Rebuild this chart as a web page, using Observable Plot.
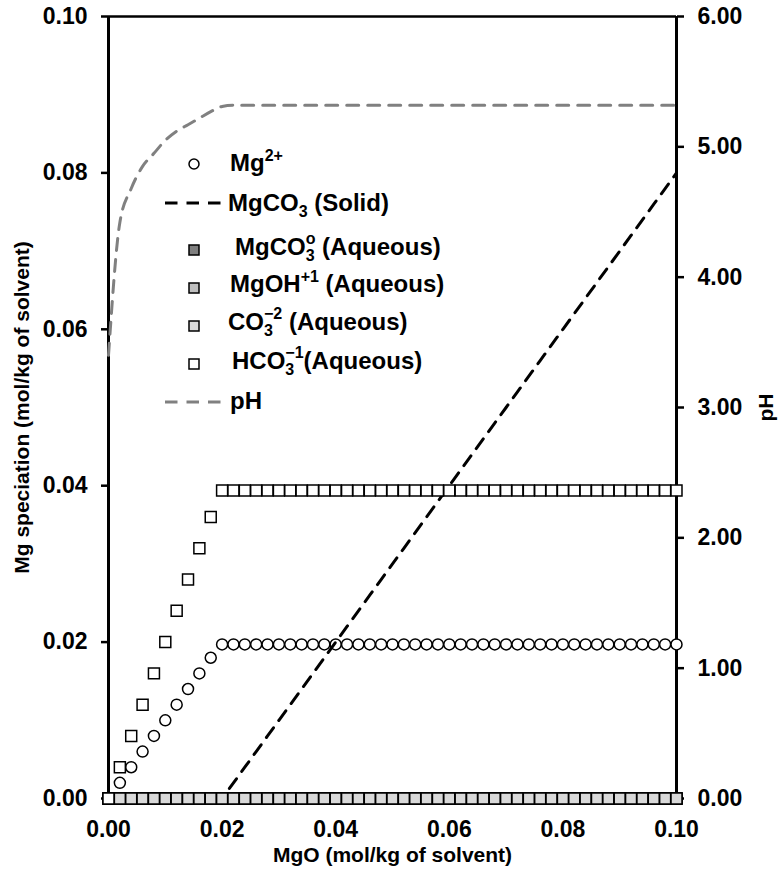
<!DOCTYPE html>
<html>
<head>
<meta charset="utf-8">
<script src="https://cdn.jsdelivr.net/npm/d3@7"></script>
<script src="https://cdn.jsdelivr.net/npm/@observablehq/plot@0.6"></script>
<style>
  body { margin: 0; background: #fff; }
  #chart { width: 781px; height: 881px; }
</style>
</head>
<body>
<div id="chart"></div>
<script>
// MgO added (mol/kg of solvent)
const mgo = [
  0.000, 0.002, 0.004, 0.006, 0.008, 0.010, 0.012, 0.014, 0.016, 0.018,
  0.020, 0.022, 0.024, 0.026, 0.028, 0.030, 0.032, 0.034, 0.036, 0.038,
  0.040, 0.042, 0.044, 0.046, 0.048, 0.050, 0.052, 0.054, 0.056, 0.058,
  0.060, 0.062, 0.064, 0.066, 0.068, 0.070, 0.072, 0.074, 0.076, 0.078,
  0.080, 0.082, 0.084, 0.086, 0.088, 0.090, 0.092, 0.094, 0.096, 0.098,
  0.100
];

// Mg2+ in solution
const mg2 = [
  0.000, 0.002, 0.004, 0.006, 0.008, 0.010, 0.012, 0.014, 0.016, 0.018,
  0.0197, 0.0197, 0.0197, 0.0197, 0.0197, 0.0197, 0.0197, 0.0197, 0.0197, 0.0197,
  0.0197, 0.0197, 0.0197, 0.0197, 0.0197, 0.0197, 0.0197, 0.0197, 0.0197, 0.0197,
  0.0197, 0.0197, 0.0197, 0.0197, 0.0197, 0.0197, 0.0197, 0.0197, 0.0197, 0.0197,
  0.0197, 0.0197, 0.0197, 0.0197, 0.0197, 0.0197, 0.0197, 0.0197, 0.0197, 0.0197,
  0.0197
];

// MgCO3 precipitated as solid
const mgco3Solid = [
  0.000, 0.000, 0.000, 0.000, 0.000, 0.000, 0.000, 0.000, 0.000, 0.000,
  0.000, 0.002, 0.004, 0.006, 0.008, 0.010, 0.012, 0.014, 0.016, 0.018,
  0.020, 0.022, 0.024, 0.026, 0.028, 0.030, 0.032, 0.034, 0.036, 0.038,
  0.040, 0.042, 0.044, 0.046, 0.048, 0.050, 0.052, 0.054, 0.056, 0.058,
  0.060, 0.062, 0.064, 0.066, 0.068, 0.070, 0.072, 0.074, 0.076, 0.078,
  0.080
];

// Aqueous MgCO3°
const mgco3Aq = [
  0, 0, 0, 0, 0, 0, 0, 0, 0, 0,
  0, 0, 0, 0, 0, 0, 0, 0, 0, 0,
  0, 0, 0, 0, 0, 0, 0, 0, 0, 0,
  0, 0, 0, 0, 0, 0, 0, 0, 0, 0,
  0, 0, 0, 0, 0, 0, 0, 0, 0, 0,
  0
];

// Aqueous MgOH+
const mgoh = [
  0, 0, 0, 0, 0, 0, 0, 0, 0, 0,
  0, 0, 0, 0, 0, 0, 0, 0, 0, 0,
  0, 0, 0, 0, 0, 0, 0, 0, 0, 0,
  0, 0, 0, 0, 0, 0, 0, 0, 0, 0,
  0, 0, 0, 0, 0, 0, 0, 0, 0, 0,
  0
];

// Aqueous CO3 2-
const co3 = [
  0, 0, 0, 0, 0, 0, 0, 0, 0, 0,
  0, 0, 0, 0, 0, 0, 0, 0, 0, 0,
  0, 0, 0, 0, 0, 0, 0, 0, 0, 0,
  0, 0, 0, 0, 0, 0, 0, 0, 0, 0,
  0, 0, 0, 0, 0, 0, 0, 0, 0, 0,
  0
];

// Aqueous HCO3-
const hco3 = [
  0.000, 0.004, 0.008, 0.012, 0.016, 0.020, 0.024, 0.028, 0.032, 0.036,
  0.0394, 0.0394, 0.0394, 0.0394, 0.0394, 0.0394, 0.0394, 0.0394, 0.0394, 0.0394,
  0.0394, 0.0394, 0.0394, 0.0394, 0.0394, 0.0394, 0.0394, 0.0394, 0.0394, 0.0394,
  0.0394, 0.0394, 0.0394, 0.0394, 0.0394, 0.0394, 0.0394, 0.0394, 0.0394, 0.0394,
  0.0394, 0.0394, 0.0394, 0.0394, 0.0394, 0.0394, 0.0394, 0.0394, 0.0394, 0.0394,
  0.0394
];

// Solution pH (secondary axis)
const pH = [
  3.40, 4.42, 4.68, 4.85, 4.95, 5.05, 5.12, 5.17, 5.22, 5.27,
  5.31, 5.32, 5.32, 5.32, 5.32, 5.32, 5.32, 5.32, 5.32, 5.32,
  5.32, 5.32, 5.32, 5.32, 5.32, 5.32, 5.32, 5.32, 5.32, 5.32,
  5.32, 5.32, 5.32, 5.32, 5.32, 5.32, 5.32, 5.32, 5.32, 5.32,
  5.32, 5.32, 5.32, 5.32, 5.32, 5.32, 5.32, 5.32, 5.32, 5.32,
  5.32
];

// Axis ticks
const xTicks = [0, 0.02, 0.04, 0.06, 0.08, 0.10];
const yTicks = [0, 0.02, 0.04, 0.06, 0.08, 0.10];
const pHTicks = [0, 1, 2, 3, 4, 5, 6];

// pH shares the left scale: 6 pH units span 0–0.10 mol/kg
const PH_MAX = 6, Y_MAX = 0.1;
const phToY = v => v * Y_MAX / PH_MAX;

const rows = mgo.map((x, i) => ({
  x, mg2: mg2[i], solid: mgco3Solid[i], mgco3Aq: mgco3Aq[i],
  mgoh: mgoh[i], co3: co3[i], hco3: hco3[i], pH: pH[i]
}));

const FONT = "'Liberation Sans', Arial, Helvetica, sans-serif";
const SQ = 6.2; // square symbol radius (≈11px side)
const TICK_FS = 23;

const chart = Plot.plot({
  width: 781,
  height: 881,
  marginLeft: 108,
  marginRight: 105,
  marginTop: 16,
  marginBottom: 83,
  style: { fontFamily: FONT, fontWeight: "bold", fontSize: "22px", color: "#000", background: "#fff", overflow: "visible" },
  x: { domain: [0, 0.1] },
  y: { domain: [0, Y_MAX] },
  marks: [
    // plot frame
    Plot.ruleY([Y_MAX], { stroke: "#000", strokeWidth: 2.5 }),
    Plot.ruleY([0], { stroke: "#000", strokeWidth: 2 }),
    Plot.ruleX([0], { stroke: "#000", strokeWidth: 3 }),
    Plot.ruleX([0.1], { stroke: "#000", strokeWidth: 3 }),

    // axes
    Plot.axisY(yTicks, {
      anchor: "left", tickSize: 7, tickPadding: 14, strokeWidth: 2.5,
      tickFormat: d => d.toFixed(2), fontSize: TICK_FS, fontWeight: "bold", label: null
    }),
    Plot.axisY(pHTicks.map(phToY), {
      anchor: "right", tickSize: 7, tickPadding: 14, strokeWidth: 2.5,
      tickFormat: d => (d * PH_MAX / Y_MAX).toFixed(2), fontSize: TICK_FS, fontWeight: "bold", label: null
    }),
    Plot.axisX(xTicks, {
      anchor: "bottom", tickSize: 7, tickPadding: 15, strokeWidth: 2.5,
      tickFormat: d => d.toFixed(2), fontSize: TICK_FS, fontWeight: "bold", label: null
    }),

    // axis titles
    Plot.text(["Mg speciation (mol/kg of solvent)"], {
      frameAnchor: "left", textAnchor: "middle", dx: -86, rotate: -90, fontSize: 21, fontWeight: "bold"
    }),
    Plot.text(["pH"], {
      frameAnchor: "right", textAnchor: "middle", dx: 90, rotate: -90, fontSize: 21, fontWeight: "bold"
    }),
    Plot.text(["MgO (mol/kg of solvent)"], {
      frameAnchor: "bottom", dy: 63, fontSize: 21, fontWeight: "bold"
    }),

    // series
    Plot.dot(rows, { x: "x", y: "mg2", r: 5.5, fill: "#fff", stroke: "#000", strokeWidth: 1.5 }),
    Plot.line(rows, { x: "x", y: "solid", stroke: "#000", strokeWidth: 3, strokeDasharray: "12,9" }),
    Plot.dot(rows, { x: "x", y: "mgco3Aq", symbol: "square", r: SQ, fill: "#7f7f7f", stroke: "#000", strokeWidth: 1.5 }),
    Plot.dot(rows, { x: "x", y: "mgoh", symbol: "square", r: SQ, fill: "#bfbfbf", stroke: "#000", strokeWidth: 1.5 }),
    Plot.dot(rows, { x: "x", y: "co3", symbol: "square", r: SQ, fill: "#d9d9d9", stroke: "#000", strokeWidth: 1.5 }),
    Plot.dot(rows, { x: "x", y: "hco3", symbol: "square", r: SQ, fill: "#fff", stroke: "#000", strokeWidth: 1.5 }),
    Plot.line(rows, { x: "x", y: d => phToY(d.pH), curve: "monotone-x", stroke: "#808080", strokeWidth: 3, strokeDasharray: "12,9" })
  ]
});

document.getElementById("chart").append(chart);

// Legend with chemical sub/superscripts
const svg = d3.select(chart);
const lg = svg.append("g")
  .attr("font-family", FONT)
  .attr("font-weight", "bold")
  .attr("font-size", 24)
  .attr("text-anchor", "start")
  .attr("fill", "#000");

const SUB = 16, SUP_DX = -8.9;

// symbols
lg.append("circle").attr("cx", 194).attr("cy", 164).attr("r", 5)
  .attr("fill", "#fff").attr("stroke", "#000").attr("stroke-width", 1.5);
lg.append("line").attr("x1", 165).attr("x2", 221).attr("y1", 203).attr("y2", 203)
  .attr("stroke", "#000").attr("stroke-width", 3).attr("stroke-dasharray", "12.5,9");
[[250, "#7f7f7f"], [288, "#bfbfbf"], [326, "#d9d9d9"], [364, "#fff"]].forEach(([cy, fill]) => {
  lg.append("rect").attr("x", 189).attr("y", cy - 5).attr("width", 10).attr("height", 10)
    .attr("fill", fill).attr("stroke", "#000").attr("stroke-width", 1.5);
});
lg.append("line").attr("x1", 165).attr("x2", 221).attr("y1", 402).attr("y2", 402)
  .attr("stroke", "#808080").attr("stroke-width", 3).attr("stroke-dasharray", "12.5,9");

// labels: each part is [text, fontSize, dy, dx]
function label(x, y, parts) {
  const t = lg.append("text").attr("x", x).attr("y", y);
  parts.forEach(([s, fs, dy, dx]) => {
    const ts = t.append("tspan").text(s).attr("font-size", fs || 24);
    if (dy) ts.attr("dy", dy);
    if (dx) ts.attr("dx", dx);
  });
}

label(230, 171, [["Mg"], ["2+", SUB, -10]]);
label(228, 211, [["MgCO"], ["3", SUB, 6], [" (Solid)", 24, -6]]);
label(235, 255, [["MgCO"], ["3", SUB, 6], ["o", SUB, -17, SUP_DX], [" (Aqueous)", 24, 11]]);
label(230, 292, [["MgOH"], ["+1", SUB, -10], [" (Aqueous)", 24, 10]]);
label(228, 330, [["CO"], ["3", SUB, 6], ["\u22122", SUB, -17, SUP_DX], [" (Aqueous)", 24, 11]]);
label(232, 369, [["HCO"], ["3", SUB, 6], ["\u22121", SUB, -17, SUP_DX], ["(Aqueous)", 24, 11]]);
label(230, 409, [["pH"]]);
</script>
</body>
</html>
